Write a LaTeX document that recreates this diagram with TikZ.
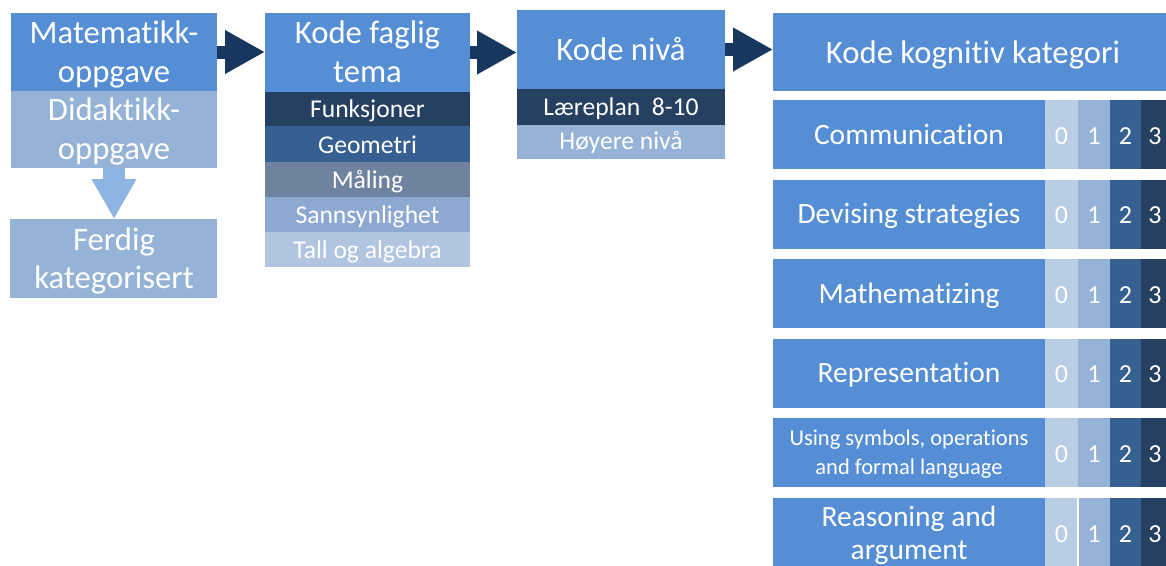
\documentclass[tikz,border=0pt]{standalone}
\usepackage{fontspec}
\setmainfont{Carlito}[Ligatures={NoCommon,NoContextual,NoRare,NoDiscretionary},RawFeature={-liga;-clig;-calt;-dlig}]
\usetikzlibrary{arrows.meta}
\definecolor{mblue}{HTML}{558ED5}
\definecolor{lblue}{HTML}{95B3D7}
\definecolor{dnavy}{HTML}{254061}
\definecolor{mnavy}{HTML}{376092}
\definecolor{greyblue}{HTML}{6F83A0}
\definecolor{sblue}{HTML}{8EA9D1}
\definecolor{tblue}{HTML}{B2C5E0}
\definecolor{zblue}{HTML}{B9CDE5}
\definecolor{arrowc}{HTML}{17375E}
\definecolor{downc}{HTML}{8DB4E2}
\tikzset{
  box/.style={rectangle, inner sep=0pt, outer sep=0pt, anchor=north west},
  big/.style={font=\fontsize{32.7pt}{39pt}\selectfont, text=white, anchor=base, inner sep=0pt},
  sub/.style={font=\fontsize{25.6pt}{30pt}\selectfont, text=white, anchor=base, inner sep=0pt},
  lab/.style={font=\fontsize{29.5pt}{36pt}\selectfont, text=white, anchor=base, inner sep=0pt},
  small/.style={font=\fontsize{22.5pt}{29pt}\selectfont, text=white, anchor=base, inner sep=0pt},
  digit/.style={font=\fontsize{26pt}{30pt}\selectfont, text=white, anchor=base, inner sep=0pt},
  flow/.style={draw=arrowc, line width=13pt, -{Triangle[length=40pt,width=41pt]}},
  down/.style={draw=downc, line width=22pt, -{Triangle[length=40pt,width=42pt]}},
}
\begin{document}
\begin{tikzpicture}[x=1pt,y=-1pt]
\useasboundingbox (0,0) rectangle (1166,565);
\clip (0,0) rectangle (1166,565);
\fill[white] (0,0) rectangle (1166,565);

% Column 1
\node[box, fill=mblue, minimum width=206pt, minimum height=78pt] (mat) at (11,13) {};
\node[box, fill=lblue, minimum width=206pt, minimum height=77pt] (did) at (11,91) {};
\node[box, fill=lblue, minimum width=207pt, minimum height=79pt] (ferdig) at (10,219) {};
\node[big] (matA) at (114,43) {Matematikk-};
\node[big] (matB) at (114,82) {oppgave};
\node[big] (didA) at (114,120) {Didaktikk-};
\node[big] (didB) at (114,159) {oppgave};
\node[big] (ferA) at (114,250) {Ferdig};
\node[big] (ferB) at (114,288) {kategorisert};

% Column 2
\node[box, fill=mblue, minimum width=205pt, minimum height=79pt] (kft) at (265,13) {};
\node[box, fill=dnavy, minimum width=205pt, minimum height=34pt] (funk) at (265,92) {};
\node[box, fill=mnavy, minimum width=205pt, minimum height=36pt] (geo) at (265,126) {};
\node[box, fill=greyblue, minimum width=205pt, minimum height=35pt] (mal) at (265,162) {};
\node[box, fill=sblue, minimum width=205pt, minimum height=35pt] (sann) at (265,197) {};
\node[box, fill=tblue, minimum width=205pt, minimum height=35pt] (tall) at (265,232) {};
\node[big] (kftA) at (367.5,43) {Kode faglig};
\node[big] (kftB) at (367.5,82) {tema};
\node[sub] (funkT) at (367.5,117) {Funksjoner};
\node[sub] (geoT) at (367.5,153) {Geometri};
\node[sub] (malT) at (367.5,188) {Måling};
\node[sub] (sannT) at (367.5,223) {Sannsynlighet};
\node[sub] (tallT) at (367.5,258) {Tall og algebra};

% Column 3
\node[box, fill=mblue, minimum width=208pt, minimum height=79pt] (kn) at (517,10) {};
\node[box, fill=dnavy, minimum width=208pt, minimum height=36pt] (lp) at (517,89) {};
\node[box, fill=lblue, minimum width=208pt, minimum height=34pt] (hn) at (517,125) {};
\node[big] (knT) at (621,60) {Kode nivå};
\node[sub] (lpT) at (621,115) {Læreplan\ \ 8-10};
\node[sub] (hnT) at (621,149) {Høyere nivå};

% Column 4
\node[box, fill=mblue, minimum width=400pt, minimum height=78pt] (kk) at (773,13) {};
\node[big] (kkT) at (973,63) {Kode kognitiv kategori};

\foreach \i in {0,...,5}{
  \pgfmathsetmacro{\ty}{100+79.6*\i}
  \node[box, fill=mblue, minimum width=272pt, minimum height=69pt] (r\i) at (773,\ty) {};
  \node[box, fill=zblue, minimum width=33pt, minimum height=69pt] (c\i a) at (1045,\ty) {};
  \node[box, fill=lblue, minimum width=32pt, minimum height=69pt] (c\i b) at (1078,\ty) {};
  \node[box, fill=mnavy, minimum width=31pt, minimum height=69pt] (c\i c) at (1110,\ty) {};
  \node[box, fill=dnavy, minimum width=32pt, minimum height=69pt] (c\i d) at (1141,\ty) {};
  \node[digit] (d\i a) at (1061.5,\ty+44) {0};
  \node[digit] (d\i b) at (1094,\ty+44) {1};
  \node[digit] (d\i c) at (1125.5,\ty+44) {2};
  \node[digit] (d\i d) at (1155,\ty+44) {3};
}
\draw[white, line width=1.2pt] (c5a.north east) -- (c5a.south east);

\node[lab] (l0) at (909,144) {Communication};
\node[lab] (l1) at (909,223.6) {Devising strategies};
\node[lab] (l2) at (909,303.2) {Mathematizing};
\node[lab] (l3) at (909,382.8) {Representation};
\node[small] (l4a) at (909,445.5) {Using symbols, operations};
\node[small] (l4b) at (909,474.5) {and formal language};
\node[lab] (l5a) at (909,526) {Reasoning and};
\node[lab] (l5b) at (909,559) {argument};

% Connectors
\draw[flow] (mat.east) -- (kft.west |- mat.east);
\draw[flow] (kft.east) -- (kn.west |- kft.east);
\draw[flow] (kn.east) -- (kk.west |- kn.east);
\draw[down] (did.south) -- (ferdig.north -| did.south);
\end{tikzpicture}
\end{document}
